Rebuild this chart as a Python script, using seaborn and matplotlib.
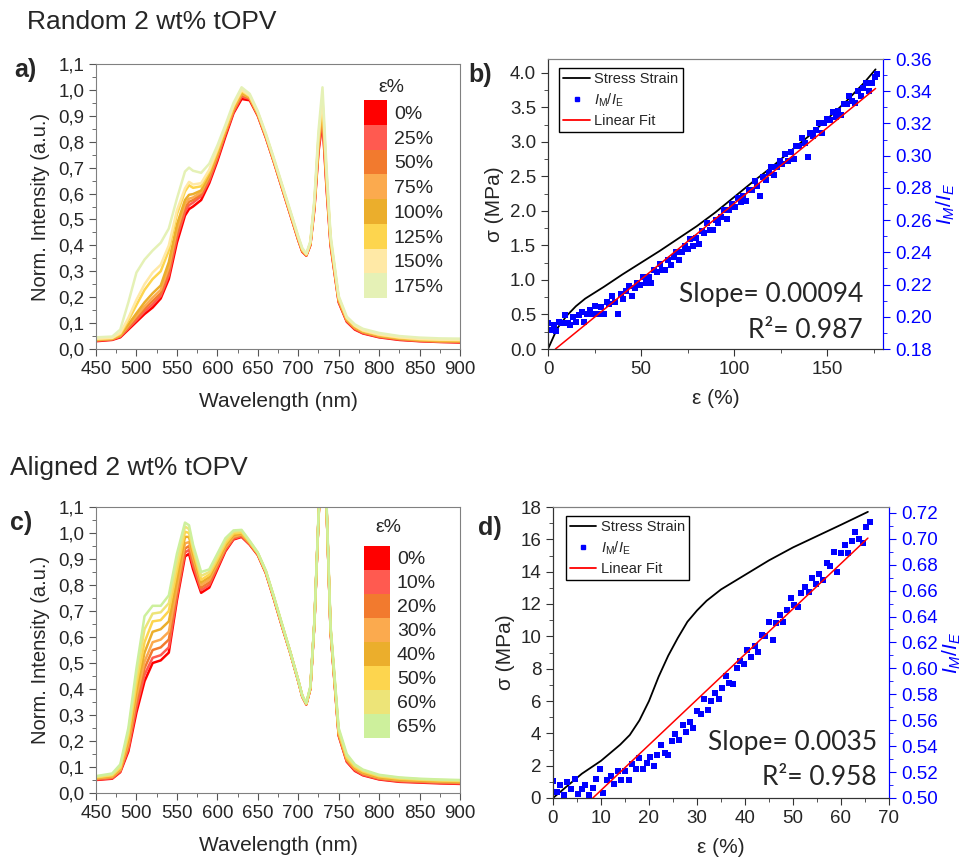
import numpy as np
import pandas as pd
import matplotlib
matplotlib.use('Agg')
import matplotlib.pyplot as plt
from matplotlib.colors import ListedColormap
from matplotlib.lines import Line2D
from matplotlib.ticker import MultipleLocator, FuncFormatter
import seaborn as sns

sns.set_style('ticks')
plt.rcParams['font.family'] = ['Liberation Sans', 'DejaVu Sans']
plt.rcParams['mathtext.fontset'] = 'custom'
plt.rcParams['mathtext.rm'] = 'Liberation Sans'
plt.rcParams['mathtext.it'] = 'Liberation Sans:italic'

# ---- spectra (a, c) ----
wavelength = [450, 470, 480, 490, 500, 510, 520, 530, 540, 550, 560, 565, 570, 580, 590,
              600, 610, 620, 630, 640, 650, 660, 670, 680, 690, 700, 705, 710, 715, 720,
              725, 730, 735, 740, 750, 760, 770, 780, 800, 825, 850, 875, 900]

random_labels = ['0%', '25%', '50%', '75%', '100%', '125%', '150%', '175%']
random_colors = ['#FF0000', '#FF5A50', '#F27A2E', '#FBAA4E', '#EBAE2C', '#FDD54E', '#FFE9A6', '#E5F1B6']
rnd_0 = [.030, .035, .045, .075, .105, .135, .160, .195, .270, .410, .515, .540, .550, .575, .640, .725, .820, .910, .965, .960, .900, .815, .720, .620, .520, .420, .375, .360, .400, .540, .760, .880, .620, .400, .180, .105, .075, .060, .045, .035, .030, .027, .025]
rnd_25 = [.032, .037, .048, .080, .112, .145, .172, .205, .285, .430, .530, .555, .565, .590, .650, .735, .830, .915, .975, .965, .903, .818, .722, .622, .522, .422, .377, .361, .402, .545, .770, .895, .630, .405, .183, .108, .078, .062, .047, .037, .031, .028, .027]
rnd_50 = [.034, .038, .050, .085, .120, .155, .185, .215, .300, .445, .545, .568, .575, .598, .660, .742, .835, .920, .980, .968, .905, .820, .724, .624, .524, .424, .378, .362, .404, .550, .780, .910, .640, .410, .186, .110, .080, .064, .048, .038, .032, .029, .028]
rnd_75 = [.035, .039, .052, .090, .128, .165, .198, .228, .315, .460, .560, .580, .585, .605, .668, .750, .840, .925, .985, .970, .907, .822, .726, .626, .526, .426, .380, .363, .406, .555, .790, .925, .650, .415, .189, .112, .082, .066, .050, .040, .034, .030, .030]
rnd_100 = [.036, .040, .054, .095, .138, .180, .215, .245, .335, .480, .575, .595, .598, .612, .675, .755, .845, .930, .990, .972, .909, .824, .728, .628, .528, .428, .382, .364, .408, .560, .800, .940, .660, .420, .192, .115, .085, .068, .052, .041, .035, .032, .031]
rnd_125 = [.038, .042, .058, .110, .170, .228, .270, .300, .380, .520, .608, .632, .622, .628, .684, .765, .850, .935, .995, .975, .912, .826, .730, .630, .530, .430, .384, .365, .410, .565, .810, .955, .670, .425, .196, .118, .088, .070, .054, .043, .037, .034, .033]
rnd_150 = [.040, .043, .062, .120, .190, .250, .295, .325, .400, .535, .620, .645, .635, .640, .692, .772, .856, .940, 1.000, .978, .914, .828, .732, .632, .532, .432, .386, .366, .412, .570, .820, .970, .680, .430, .200, .121, .090, .072, .056, .045, .039, .036, .035]
rnd_175 = [.045, .048, .075, .180, .295, .345, .380, .410, .465, .580, .685, .700, .688, .680, .715, .785, .865, .950, 1.010, .985, .918, .832, .736, .636, .536, .436, .390, .368, .416, .580, .840, 1.010, .700, .440, .205, .125, .095, .078, .062, .050, .044, .041, .040]

aligned_labels = ['0%', '10%', '20%', '30%', '40%', '50%', '60%', '65%']
aligned_colors = ['#FF0000', '#FF5A50', '#F27A2E', '#FBAA4E', '#EBAE2C', '#FDD54E', '#EDE478', '#CDF09C']
aln_0 = [.050, .055, .080, .160, .310, .430, .500, .510, .540, .740, .910, .920, .860, .770, .790, .860, .930, .975, .985, .955, .915, .845, .745, .640, .540, .430, .370, .340, .400, .650, 1.05, 1.40, 1.10, .620, .220, .120, .085, .068, .052, .043, .040, .037, .035]
aln_10 = [.052, .057, .083, .170, .330, .455, .520, .530, .560, .755, .925, .935, .875, .780, .800, .868, .935, .978, .988, .957, .917, .847, .747, .642, .541, .431, .371, .341, .401, .652, 1.05, 1.40, 1.10, .622, .223, .123, .088, .070, .054, .045, .042, .039, .037]
aln_20 = [.054, .060, .086, .180, .350, .480, .550, .560, .590, .770, .940, .950, .890, .790, .810, .875, .940, .982, .991, .959, .919, .849, .749, .644, .542, .432, .372, .342, .402, .654, 1.05, 1.40, 1.10, .625, .226, .126, .091, .073, .056, .047, .044, .041, .039]
aln_30 = [.056, .062, .089, .190, .370, .505, .580, .590, .620, .790, .960, .965, .905, .800, .820, .882, .945, .986, .994, .961, .920, .850, .750, .645, .543, .433, .373, .342, .403, .655, 1.05, 1.40, 1.10, .628, .229, .129, .094, .076, .058, .049, .046, .043, .041]
aln_40 = [.058, .065, .093, .205, .395, .540, .620, .630, .660, .820, .985, .985, .920, .810, .830, .890, .952, .992, .998, .963, .921, .851, .751, .646, .543, .433, .373, .343, .404, .656, 1.05, 1.40, 1.10, .630, .232, .132, .097, .079, .060, .051, .048, .045, .043]
aln_50 = [.060, .068, .097, .220, .420, .580, .660, .665, .700, .855, 1.005, 1.000, .935, .820, .840, .898, .960, .998, 1.002, .965, .922, .852, .752, .647, .544, .434, .374, .344, .405, .657, 1.05, 1.40, 1.10, .633, .236, .136, .101, .083, .064, .055, .051, .048, .046]
aln_60 = [.062, .071, .102, .235, .450, .630, .690, .695, .730, .885, 1.025, 1.015, .945, .835, .850, .908, .970, 1.005, 1.008, .967, .924, .853, .753, .648, .544, .434, .374, .344, .407, .658, 1.06, 1.40, 1.11, .636, .243, .143, .106, .087, .067, .058, .053, .050, .048]
aln_65 = [.065, .075, .110, .250, .480, .680, .720, .720, .760, .920, 1.040, 1.030, .955, .850, .860, .920, .980, 1.010, 1.012, .970, .925, .855, .755, .650, .545, .435, .375, .345, .410, .660, 1.06, 1.40, 1.12, .640, .250, .150, .110, .090, .070, .060, .055, .052, .050]

# ---- stress strain (b) ----
b_ss_x = [0, 2, 5, 10, 15, 20, 30, 40, 50, 60, 70, 80, 90, 100, 110, 120, 130, 140, 150, 160, 170, 176]
b_ss_y = [0, .12, .30, .48, .62, .73, .90, 1.08, 1.25, 1.42, 1.60, 1.78, 1.98, 2.20, 2.42, 2.63, 2.86, 3.08, 3.33, 3.58, 3.86, 4.05]
b_ratio_x = [0, 1.5, 3, 4.5, 6, 7.5, 9, 10.5, 12, 13.5, 15, 16.5, 18, 19.5, 21, 22.5, 24, 25.5, 27, 28.5,
             30, 31.5, 33, 34.5, 36, 37.5, 39, 40.5, 42, 43.5, 45, 46.5, 48, 49.5, 51, 52.5, 54, 55.5, 57, 58.5,
             60, 61.5, 63, 64.5, 66, 67.5, 69, 70.5, 72, 73.5, 75, 76.5, 78, 79.5, 81, 82.5, 84, 85.5, 87, 88.5,
             90, 91.5, 93, 94.5, 96, 97.5, 99, 100.5, 102, 103.5, 105, 106.5, 108, 109.5, 111, 112.5, 114, 115.5, 117, 118.5,
             120, 121.5, 123, 124.5, 126, 127.5, 129, 130.5, 132, 133.5, 135, 136.5, 138, 139.5, 141, 142.5, 144, 145.5, 147, 148.5,
             150, 151.5, 153, 154.5, 156, 157.5, 159, 160.5, 162, 163.5, 165, 166.5, 168, 169.5, 171, 172.5, 174, 175.5, 177]
b_ratio_y = [.196, .192, .195, .191, .197, .196, .201, .196, .195, .200, .197, .201, .203, .197, .202, .204, .202, .207, .202, .206,
             .202, .209, .208, .213, .209, .202, .214, .211, .216, .219, .213, .218, .221, .220, .225, .221, .225, .221, .229, .228,
             .233, .229, .229, .235, .232, .237, .240, .235, .240, .244, .242, .248, .244, .249, .245, .253, .252, .258, .254, .254,
             .260, .258, .262, .266, .261, .266, .270, .268, .274, .271, .275, .272, .279, .279, .284, .281, .275, .287, .285, .289,
             .293, .288, .293, .297, .295, .301, .297, .302, .298, .306, .306, .311, .308, .299, .314, .312, .316, .320, .314, .320,
             .323, .322, .327, .324, .328, .325, .332, .332, .337, .334, .333, .340, .337, .342, .345, .340, .345, .349, .351]
b_fit_x = [4, 176]
b_fit_y = [0.180, 0.3417]

# ---- stress strain (d) ----
d_ss_x = [0, 2, 4, 6, 8, 10, 12, 14, 16, 18, 20, 22, 24, 26, 28, 30, 32, 35, 40, 45, 50, 55, 60, 65.6]
d_ss_y = [0, .5, 1.0, 1.5, 1.9, 2.3, 2.8, 3.3, 3.9, 4.8, 6.0, 7.5, 8.8, 9.9, 10.9, 11.6, 12.2, 12.9, 13.8, 14.7, 15.5, 16.2, 16.9, 17.7]
d_ratio_x = [0, .75, 1.5, 2.25, 3, 3.75, 4.5, 5.25, 6, 6.75, 7.5, 8.25, 9, 9.75, 10.5, 11.25, 12, 12.75, 13.5, 14.25,
             15, 15.75, 16.5, 17.25, 18, 18.75, 19.5, 20.25, 21, 21.75, 22.5, 23.25, 24, 24.75, 25.5, 26.25, 27, 27.75, 28.5, 29.25,
             30, 30.75, 31.5, 32.25, 33, 33.75, 34.5, 35.25, 36, 36.75, 37.5, 38.25, 39, 39.75, 40.5, 41.25, 42, 42.75, 43.5, 44.25,
             45, 45.75, 46.5, 47.25, 48, 48.75, 49.5, 50.25, 51, 51.75, 52.5, 53.25, 54, 54.75, 55.5, 56.25, 57, 57.75, 58.5, 59.25,
             60, 60.75, 61.5, 62.25, 63, 63.75, 64.5, 65.25, 66]
d_ratio_y = [.513, .505, .510, .502, .512, .507, .515, .503, .507, .510, .502, .508, .515, .522, .504, .514, .517, .511, .521, .514,
             .521, .514, .526, .522, .531, .522, .527, .532, .525, .533, .541, .535, .533, .544, .549, .545, .556, .551, .559, .554,
             .567, .565, .576, .568, .575, .581, .576, .585, .594, .589, .588, .600, .606, .603, .614, .609, .617, .613, .626, .625,
             .636, .622, .635, .641, .636, .645, .654, .649, .647, .658, .663, .659, .670, .665, .673, .668, .681, .679, .690, .674,
             .689, .695, .689, .698, .705, .700, .697, .709, .713]
d_fit_x = [8.3, 65.6]
d_fit_y = [0.500, 0.7005]

W, H = 962, 857
fig = plt.figure(figsize=(W / 100, H / 100), dpi=100)


def rect(left, top, right, bottom):
    return [left / W, 1 - bottom / H, (right - left) / W, (bottom - top) / H]


def comma(v, pos):
    return f'{v:.1f}'.replace('.', ',')


def spectra_panel(box, curves, labels, colors, key_box, key_title_xy):
    ax = fig.add_axes(box)
    frames = [pd.DataFrame({'wl': wavelength, 'I': c, 'strain': lab}) for c, lab in zip(curves, labels)]
    df = pd.concat(frames, ignore_index=True)
    sns.lineplot(data=df, x='wl', y='I', hue='strain', hue_order=labels, palette=colors,
                 lw=1.8, estimator=None, sort=False, legend=False, ax=ax)
    ax.set_xlim(450, 900)
    ax.set_ylim(0, 1.1)
    ax.xaxis.set_major_locator(MultipleLocator(50))
    ax.xaxis.set_minor_locator(MultipleLocator(25))
    ax.yaxis.set_major_locator(MultipleLocator(0.1))
    ax.yaxis.set_minor_locator(MultipleLocator(0.05))
    ax.yaxis.set_major_formatter(FuncFormatter(comma))
    ax.tick_params(which='both', direction='out', labelsize=13.5, color='#555555')
    ax.tick_params(which='major', length=5)
    ax.tick_params(which='minor', length=3)
    for s in ax.spines.values():
        s.set_color('#808080')
    ax.set_xlabel('Wavelength (nm)', fontsize=15, labelpad=10)
    ax.set_ylabel('Norm. Intensity (a.u.)', fontsize=14.5, labelpad=6)

    # colour key as a one column heatmap
    kax = fig.add_axes(key_box)
    sns.heatmap(np.arange(len(labels)).reshape(-1, 1), cmap=ListedColormap(colors), cbar=False,
                xticklabels=False, yticklabels=labels, ax=kax)
    kax.yaxis.tick_right()
    kax.tick_params(axis='y', length=0, labelsize=14, rotation=0, pad=5)
    fig.text(key_title_xy[0] / W, 1 - key_title_xy[1] / H, 'ε%', fontsize=14, ha='center', va='center')
    return ax


def stress_panel(box, ss_x, ss_y, r_x, r_y, f_x, f_y, xlim, ylim, ylim2, xstep, ystep, y2step,
                 yfmt, leg_anchor, slope, r2, txt_x, txt_y1, txt_y2):
    ax = fig.add_axes(box)
    sns.lineplot(x=ss_x, y=ss_y, color='black', lw=1.3, ax=ax)
    ax2 = ax.twinx()
    sns.scatterplot(x=r_x, y=r_y, color='blue', marker='s', s=14, linewidth=0, ax=ax2)
    sns.lineplot(x=f_x, y=f_y, color='red', lw=1.1, ax=ax2)
    ax.set_xlim(*xlim)
    ax.set_ylim(*ylim)
    ax2.set_ylim(*ylim2)
    ax.xaxis.set_major_locator(MultipleLocator(xstep))
    ax.xaxis.set_minor_locator(MultipleLocator(xstep / 2))
    ax.yaxis.set_major_locator(MultipleLocator(ystep))
    ax.yaxis.set_minor_locator(MultipleLocator(ystep / 2))
    ax.yaxis.set_major_formatter(FuncFormatter(yfmt))
    ax2.yaxis.set_major_locator(MultipleLocator(y2step))
    ax2.yaxis.set_minor_locator(MultipleLocator(y2step / 2))
    ax2.yaxis.set_major_formatter(FuncFormatter(lambda v, p: f'{v:.2f}'))
    ax.tick_params(which='both', direction='out', labelsize=13.5, color='#333333')
    ax.tick_params(which='major', length=5)
    ax.tick_params(which='minor', length=3)
    ax2.tick_params(which='both', direction='out', labelsize=13.5, colors='blue')
    ax2.tick_params(which='major', length=5)
    ax2.tick_params(which='minor', length=3)
    for a in (ax, ax2):
        a.spines['top'].set_color('#808080')
        a.spines['left'].set_color('#333333')
        a.spines['bottom'].set_color('#333333')
        a.spines['right'].set_color('blue')
    ax.set_xlabel('ε (%)', fontsize=15, labelpad=8)
    ax.set_ylabel('σ (MPa)', fontsize=15, labelpad=4)
    ax2.set_ylabel(r'$I_M/I_E$', fontsize=15, color='blue', labelpad=2)
    handles = [Line2D([], [], color='black', lw=1.3),
               Line2D([], [], color='blue', marker='s', ms=3.5, lw=0),
               Line2D([], [], color='red', lw=1.3)]
    names = ['Stress Strain', r'$\mathit{I}_\mathrm{M}/\mathit{I}_\mathrm{E}$', 'Linear Fit']
    leg = ax2.legend(handles, names, loc='upper left', bbox_to_anchor=leg_anchor, borderaxespad=0,
                     fontsize=10.5, frameon=True, fancybox=False, edgecolor='black', framealpha=1,
                     handlelength=1.8, handletextpad=0.3, labelspacing=0.35, borderpad=0.3)
    leg.get_frame().set_linewidth(1.0)
    ax2.text(txt_x, txt_y1, slope, transform=ax2.transAxes, ha='right', va='baseline',
             fontsize=19, family=['Lato', 'DejaVu Sans'])
    ax2.text(txt_x, txt_y2, r2, transform=ax2.transAxes, ha='right', va='baseline',
             fontsize=19, family=['Lato', 'DejaVu Sans'])
    return ax


spectra_panel(rect(96, 64, 460, 349),
              [rnd_0, rnd_25, rnd_50, rnd_75, rnd_100, rnd_125, rnd_150, rnd_175],
              random_labels, random_colors, rect(364, 100, 387, 298), (391, 88))
spectra_panel(rect(96, 507, 460, 793),
              [aln_0, aln_10, aln_20, aln_30, aln_40, aln_50, aln_60, aln_65],
              aligned_labels, aligned_colors, rect(364, 546, 390, 738), (388, 527))

stress_panel(rect(548, 59, 883, 349), b_ss_x, b_ss_y, b_ratio_x, b_ratio_y, b_fit_x, b_fit_y,
             (0, 180), (0, 4.2), (0.18, 0.36), 50, 0.5, 0.02,
             lambda v, p: f'{v:.1f}', (0.033, 0.969), 'Slope= 0.00094', 'R²= 0.987', 0.94, 0.162, 0.038)
stress_panel(rect(553, 507, 889, 798), d_ss_x, d_ss_y, d_ratio_x, d_ratio_y, d_fit_x, d_fit_y,
             (0, 70), (0, 18), (0.50, 0.7245), 10, 2, 0.02,
             lambda v, p: f'{v:.0f}', (0.038, 0.969), 'Slope= 0.0035', 'R²= 0.958', 0.964, 0.165, 0.045)

fig.text(27 / W, 1 - 29 / H, 'Random 2 wt% tOPV', fontsize=19, va='baseline')
fig.text(10 / W, 1 - 475 / H, 'Aligned 2 wt% tOPV', fontsize=19, va='baseline')
for lab, x, y in [('a)', 14, 77), ('b)', 468, 82), ('c)', 10, 530), ('d)', 478, 535)]:
    fig.text(x / W, 1 - y / H, lab, fontsize=18, fontweight='bold', va='baseline')

fig.savefig('out.png', dpi=100, facecolor='white')
